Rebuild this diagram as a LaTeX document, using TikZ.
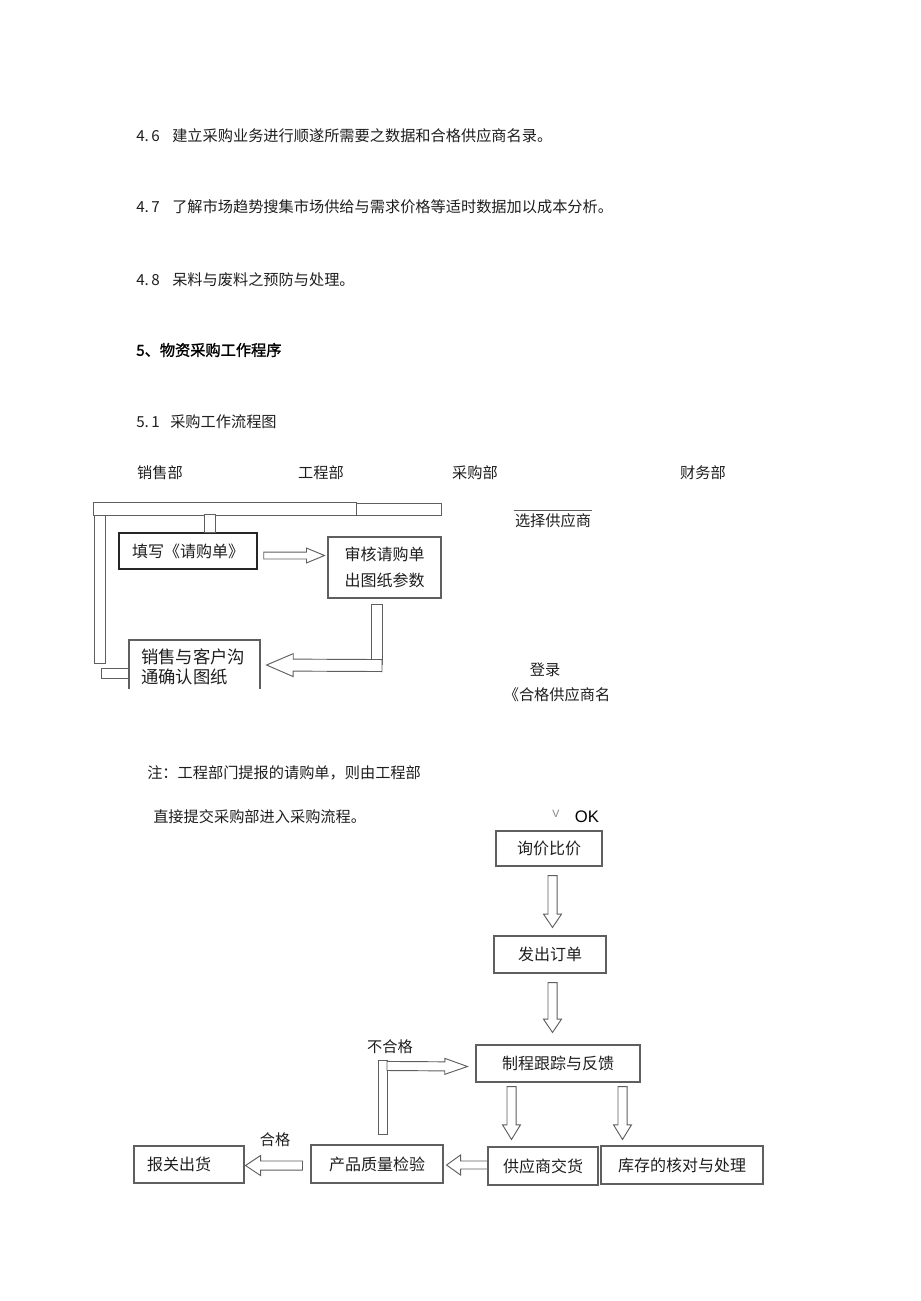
\documentclass[tikz,border=0pt]{standalone}
\usepackage{fontspec}
\setmainfont{Noto Sans CJK SC}
\newfontfamily\latinsans{Liberation Sans}
\newfontfamily\headfont{Noto Sans CJK SC}[FakeBold=1.5]
\usetikzlibrary{calc,positioning}
\definecolor{linegray}{RGB}{95,95,95}
\definecolor{textgray}{RGB}{30,30,30}

% hollow block arrow: [head length]{start}{tip}{shaft half width}{head half width}
\newcommand{\hollowarrow}[5][10pt]{%
  \coordinate (ha-s) at #2;
  \coordinate (ha-t) at #3;
  \coordinate (ha-b) at ($(ha-t)!#1!(ha-s)$);
  \draw[hollow] ($(ha-s)!#4!90:(ha-t)$) -- ($(ha-b)!#4!-90:(ha-s)$)
    -- ($(ha-b)!#5!-90:(ha-s)$) -- (ha-t) -- ($(ha-b)!#5!90:(ha-s)$)
    -- ($(ha-b)!#4!90:(ha-s)$) -- ($(ha-s)!#4!-90:(ha-t)$) -- cycle;}

\begin{document}
\begin{tikzpicture}[x=0.75pt, y=-0.75pt,
    every node/.style={inner sep=0pt, text=textgray, font=\fontsize{11.4}{14}\selectfont},
    box/.style={draw=linegray, line width=0.8pt, align=center,
                font=\fontsize{12}{20}\selectfont},
    hollow/.style={draw=linegray, line width=0.7pt, fill=white}]

\useasboundingbox (0,0) rectangle (920,1301);

% text above the chart
\node[anchor=west] (p46) at (136,136) {\makebox[27pt][l]{4.\,6}建立采购业务进行顺遂所需要之数据和合格供应商名录。};
\node[anchor=west] (p47) at (136,207) {\makebox[27pt][l]{4.\,7}了解市场趋势搜集市场供给与需求价格等适时数据加以成本分析。};
\node[anchor=west] (p48) at (136,280) {\makebox[27pt][l]{4.\,8}呆料与废料之预防与处理。};
\node[anchor=west, font=\headfont\fontsize{11.4}{14}\selectfont, text=black] (sec5) at (136,350) {5、物资采购工作程序};
\node[anchor=west] (p51) at (136,422) {\makebox[25.5pt][l]{5.\,1}采购工作流程图};

% department heads
\node (hsale) at (160,473) {销售部};
\node (heng) at (321,473) {工程部};
\node (hpur) at (475,473) {采购部};
\node (hfin) at (703,473) {财务部};

% top part of the chart
\draw[hollow] (93,502) rectangle (356,515);
\draw[hollow] (356,503) rectangle (441,515);
\draw[hollow] (94,515) rectangle (105,663);

\node[box, draw=black!85, line width=1.1pt, minimum width=103.5pt, minimum height=27pt] (fill) at (188,551) {填写《请购单》};
\draw[hollow] ($(fill.north)+(16,-18)$) rectangle ($(fill.north)+(27,0)$);

\node[box, minimum width=84.75pt, minimum height=45.75pt] (audit) at (384.5,567.5) {审核请购单\\出图纸参数};
\hollowarrow[13.5pt]{($(fill.east)+(6,4.5)$)}{($(audit.west)+(-3,-12)$)}{2.6pt}{5.6pt}

\begin{scope}
  \clip (0,0) rectangle (920,688);
  \node[box, align=left, text width=80pt, minimum width=98.25pt, minimum height=39.75pt,
        font=\fontsize{13}{15}\selectfont] (talk) at (194.5,666.5) {销售与客户沟\\通确认图纸};
\end{scope}
\draw[hollow] ($(talk.west)+(-27,1.5)$) rectangle ($(talk.west)+(0,11.5)$);

\draw[hollow] ($(audit.south)+(-13.5,6)$) rectangle ($(audit.south)+(-2.5,66)$);
\hollowarrow[20pt]{($(audit.south)+(-2.5,67)$)}{($(talk.east)+(6,-1.5)$)}{4.5pt}{8.6pt}

\node (choose) at (553,521) {选择供应商};
\draw[linegray, line width=0.8pt] ($(choose.north west)+(-1,-3)$) -- ($(choose.north east)+(1,-3)$);
\node (reg) at (545,670) {登录};
\node (list) at (557,695) {《合格供应商名};

% note
\node[anchor=west] (note1) at (147,773) {注：工程部门提报的请购单，则由工程部};
\node[anchor=west] (note2) at (153,817) {直接提交采购部进入采购流程。};

% lower part of the chart
\node[font=\latinsans\fontsize{8}{9}\selectfont, text=black!50] (vmark) at (556,814) {V};
\node[font=\latinsans\fontsize{12.5}{14}\selectfont, text=black] (ok) at (587,817) {OK};

\node[box, minimum width=79.5pt, minimum height=26.25pt] (inquiry) at (549,848.5) {询价比价};
\node[box, minimum width=84pt, minimum height=27.75pt] (order) at (550,954.5) {发出订单};
\node[box, minimum width=123pt, minimum height=27.75pt] (track) at (558,1063.5) {制程跟踪与反馈};
\node[box, minimum width=82.5pt, minimum height=28.5pt] (supply) at (543,1166) {供应商交货};
\node[box, minimum width=121.5pt, minimum height=28.5pt] (stock) at (682,1165) {库存的核对与处理};
\node[box, minimum width=99pt, minimum height=28.5pt] (qc) at (377,1164) {产品质量检验};
\node[box, minimum width=82.5pt, minimum height=27.75pt, text width=63pt, align=left] (ship) at (189,1164.5) {报关出货};

\hollowarrow[10pt]{($(inquiry.south)+(3.5,9)$)}{($(order.north)+(2.5,-8)$)}{3.4pt}{6.75pt}
\hollowarrow[10pt]{($(order.south)+(2.5,9)$)}{($(track.north)+(-5.5,-12)$)}{3.4pt}{6.75pt}
\hollowarrow[11pt]{($(track.south)+(-46.5,4)$)}{($(supply.north)+(-31.5,-7)$)}{3.4pt}{6.75pt}
\hollowarrow[11pt]{($(track.south)+(64.5,4)$)}{($(stock.north)+(-59.5,-6)$)}{3.4pt}{6.75pt}
\hollowarrow[10.5pt]{($(supply.west)+(0,-1)$)}{($(qc.east)+(3,1)$)}{3pt}{7.5pt}
\hollowarrow[11.25pt]{($(qc.west)+(-8,1.5)$)}{($(ship.east)+(1,1)$)}{3.4pt}{7.5pt}
\node (pass) at (275,1140) {合格};

\draw[hollow] ($(qc.north)+(1,-84)$) rectangle ($(qc.north)+(10,-10)$);
\hollowarrow[17pt]{($(qc.north)+(10,-78.5)$)}{($(track.west)+(-8,3)$)}{3.4pt}{6pt}
\node (fail) at (390,1047) {不合格};
\end{tikzpicture}
\end{document}
